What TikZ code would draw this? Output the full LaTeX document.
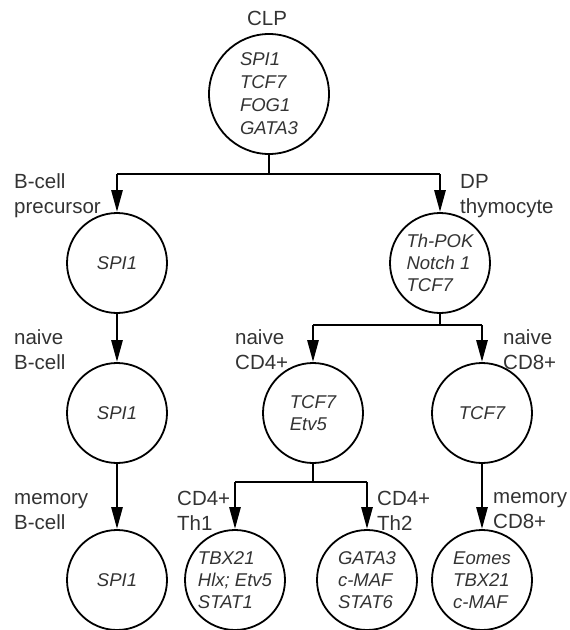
\documentclass[tikz,border=0pt]{standalone}
\usepackage{fontspec}
\setmainfont{Liberation Sans}
\usetikzlibrary{arrows.meta,positioning}

\begin{document}
\begin{tikzpicture}[x=1pt,y=-1pt]
    \tikzset{cell/.style= {draw, circle
    , line width=1.8pt
    , minimum size=100pt
    , inner sep=0pt
    , align=left
    , text=black!80
    , font=\fontsize{18.5}{22}\selectfont\itshape
      }
    , lab/.style= {anchor=west
    , inner sep=0pt
    , align=left
    , text=black!80
    , font=\fontsize{20.5}{25}\selectfont
      }
    , bar/.style={line width=1.8pt}
    , drop/.style={line width=2.8pt, -{Triangle[length=22pt,width=11pt]}}
    }
\useasboundingbox (0,0) rectangle (570,630);

% cells
\node [cell, minimum size=120pt, font=\fontsize{18.5}{23}\selectfont\itshape] (clp) at (269,94) {SPI1\\TCF7\\FOG1\\GATA3};
\node [cell] (bpre) at (117,263) {SPI1};
\node [cell] (bnaive) at (117,413) {SPI1};
\node [cell] (bmem) at (117,580) {SPI1};
\node [cell] (dp) at (440,263) {Th-POK\\Notch 1\\TCF7};
\node [cell] (cdfour) at (313,413) {TCF7\\Etv5};
\node [cell] (cdeight) at (482,413) {TCF7};
\node [cell] (thone) at (235,580) {TBX21\\Hlx; Etv5\\STAT1};
\node [cell] (thtwo) at (367,580) {GATA3\\c-MAF\\STAT6};
\node [cell] (cdeightmem) at (482,580) {Eomes\\TBX21\\c-MAF};

% labels
\node [lab, anchor=center] (clplab) at (267,18) {CLP};
\node [lab] (bprelab) at (14,196) {B-cell\\precursor};
\node [lab] (bnaivelab) at (14,350) {naive\\B-cell};
\node [lab] (bmemlab) at (14,512) {memory\\B-cell};
\node [lab] (dplab) at (460,196) {DP\\thymocyte};
\node [lab] (cdfourlab) at (235,350) {naive\\CD4+};
\node [lab] (cdeightlab) at (503,350) {naive\\CD8+};
\node [lab] (thonelab) at (177,511) {CD4+\\Th1};
\node [lab] (thtwolab) at (377,511) {CD4+\\Th2};
\node [lab] (cdeightmemlab) at (493,511) {memory\\CD8+};

% branches
\coordinate (jclp) at (269,174);
\coordinate (jdp) at (440,325);
\coordinate (jcdfour) at (313,482);

\draw [bar] (clp.south) -- (jclp);
\draw [bar] (bpre.north |- jclp) -- (dp.north |- jclp);
\draw [drop] (bpre.north |- jclp) -- (bpre.north);
\draw [drop] (dp.north |- jclp) -- (dp.north);

\draw [bar] (dp.south) -- (jdp);
\draw [bar] (cdfour.north |- jdp) -- (cdeight.north |- jdp);
\draw [drop] (cdfour.north |- jdp) -- (cdfour.north);
\draw [drop] (cdeight.north |- jdp) -- (cdeight.north);

\draw [bar] (cdfour.south) -- (jcdfour);
\draw [bar] (thone.north |- jcdfour) -- (thtwo.north |- jcdfour);
\draw [drop] (thone.north |- jcdfour) -- (thone.north);
\draw [drop] (thtwo.north |- jcdfour) -- (thtwo.north);

\draw [drop] (bpre) -- (bnaive);
\draw [drop] (bnaive) -- (bmem);
\draw [drop] (cdeight) -- (cdeightmem);
\end{tikzpicture}
\end{document}
